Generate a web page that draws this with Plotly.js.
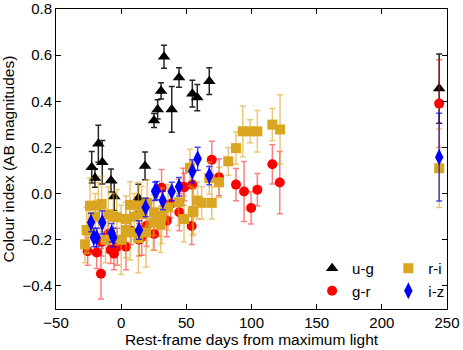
<!DOCTYPE html>
<html>
<head>
<meta charset="utf-8">
<script src="https://cdn.plot.ly/plotly-3.0.1.min.js"></script>
<style>
  html, body { margin: 0; padding: 0; background: #fff; }
  #plot { width: 463px; height: 350px; }
</style>
</head>
<body>
<div id="plot"></div>
<script>
// u-g colour curve
const ugDays = [-22.6, -20.1, -17.5, -14.5, -7.8, -5.3, 13.2, 18.3, 25.2, 28.0, 30.6, 32.9, 38.8, 44.4, 54.6, 58.4, 67.6, 244];
const ugVals = [0.114, 0.068, 0.216, 0.136, 0.057, -0.013, -0.019, 0.12, 0.317, 0.365, 0.445, 0.593, 0.365, 0.503, 0.433, 0.416, 0.487, 0.455];
const ugErrs = [0.068, 0.04, 0.08, 0.094, 0.05, 0.06, 0.06, 0.06, 0.03, 0.042, 0.035, 0.05, 0.099, 0.042, 0.058, 0.057, 0.058, 0.15];

// g-r colour curve
const grDays = [-25.7, -18.8, -15.5, -15.0, -10.0, -8.0, -5.5, -3.0, 3.7, 7.6, 13.7, 15.8, 19.6, 25.2, 28.5, 31.0, 35.0, 38.0, 44.6, 47.7, 48.5, 54.1, 54.6, 69.5, 75.1, 88.1, 94.3, 99.7, 104.5, 116, 121.7, 244];
const grVals = [-0.25, -0.255, -0.347, -0.21, -0.175, -0.243, -0.26, -0.23, -0.23, -0.161, -0.2, -0.187, -0.139, -0.175, -0.125, 0.025, -0.117, -0.045, -0.081, 0.03, 0.028, -0.14, 0.039, 0.147, 0.071, 0.039, 0.009, -0.062, 0.017, 0.127, 0.048, 0.39];
const grErrs = [0.06, 0.07, 0.11, 0.06, 0.08, 0.06, 0.07, 0.08, 0.1, 0.06, 0.07, 0.08, 0.09, 0.07, 0.06, 0.08, 0.07, 0.06, 0.08, 0.08, 0.06, 0.08, 0.1, 0.08, 0.08, 0.07, 0.13, 0.07, 0.07, 0.085, 0.135, 0.19];

// r-i colour curve
const riDays = [-27.7, -26.5, -25.2, -23.9, -20.0, -17.5, -15.0, -12.0, -9.8, -6.0, -3.4, 0.0, 3.7, 3.7, 6.8, 6.8, 10.0, 13.2, 13.2, 15.7, 19.1, 20.0, 24.7, 25.2, 30.3, 31.1, 36.0, 43.9, 48.2, 52.8, 54.9, 55.4, 58.6, 61.8, 67.6, 69.5, 75.1, 82.2, 88.1, 93.3, 98.9, 104.5, 116, 121.9, 244];
const riVals = [-0.22, -0.158, -0.16, -0.052, -0.1, -0.052, -0.045, -0.2, -0.09, -0.1, -0.103, -0.2, -0.11, -0.158, -0.049, -0.168, -0.1, -0.052, -0.193, -0.088, -0.168, -0.04, -0.125, -0.081, -0.135, -0.096, -0.06, -0.038, -0.11, 0.112, -0.081, -0.075, -0.03, -0.04, 0.067, -0.04, 0.049, 0.14, 0.197, 0.27, 0.27, 0.27, 0.299, 0.278, 0.11];
const riErrs = [0.08, 0.1, 0.1, 0.12, 0.1, 0.1, 0.12, 0.1, 0.12, 0.1, 0.12, 0.15, 0.1, 0.12, 0.1, 0.12, 0.1, 0.1, 0.15, 0.12, 0.15, 0.1, 0.12, 0.1, 0.12, 0.12, 0.1, 0.1, 0.1, 0.08, 0.1, 0.1, 0.08, 0.07, 0.07, 0.07, 0.065, 0.06, 0.07, 0.11, 0.05, 0.09, 0.07, 0.15, 0.17];

// i-z colour curve
const izDays = [-23.1, -21.0, -18.8, -14.5, -7.3, -6.0, 13.7, 18.8, 26.0, 27.2, 31.9, 38.8, 44.4, 54.6, 58.7, 67.6, 244];
const izVals = [-0.125, -0.19, -0.19, -0.125, -0.17, -0.19, -0.158, -0.06, 0.01, 0.013, -0.03, 0.009, 0.03, 0.097, 0.151, 0.078, 0.158];
const izErrs = [0.04, 0.04, 0.04, 0.05, 0.04, 0.04, 0.04, 0.04, 0.04, 0.04, 0.04, 0.04, 0.04, 0.05, 0.05, 0.04, 0.19];

const yTicks = [-0.4, -0.2, 0.0, 0.2, 0.4, 0.6, 0.8];

const FONT = 'Liberation Sans, Arial, sans-serif';

function series(name, x, y, err, symbol, size, color, errColor, legend) {
  return {
    type: 'scatter',
    mode: 'markers',
    name: name,
    x: x,
    y: y,
    legend: legend,
    error_y: { type: 'data', array: err, visible: true, color: errColor, thickness: 1.5, width: 3 },
    marker: { symbol: symbol, size: size, color: color, line: { width: 0 } }
  };
}

const data = [
  series('u-g', ugDays, ugVals, ugErrs, 'triangle-up', 11, '#000000', 'rgba(0,0,0,0.85)', 'legend'),
  series('g-r', grDays, grVals, grErrs, 'circle', 10, '#ff0000', 'rgba(255,0,0,0.5)', 'legend'),
  series('r-i', riDays, riVals, riErrs, 'square', 10, '#daa520', 'rgba(218,165,32,0.6)', 'legend2'),
  series('i-z', izDays, izVals, izErrs, 'diamond-tall', 12, '#0000ff', 'rgba(0,0,255,0.7)', 'legend2')
];

const axisCommon = {
  showline: true,
  linecolor: '#000',
  linewidth: 1,
  mirror: 'ticks',
  ticks: 'inside',
  ticklen: 5,
  tickcolor: '#000',
  showgrid: false,
  zeroline: false,
  tickfont: { family: FONT, size: 15, color: '#000' }
};

const legendCommon = {
  bgcolor: 'rgba(0,0,0,0)',
  font: { family: FONT, size: 15, color: '#000' },
  yanchor: 'top',
  y: 0.19,
  itemwidth: 30,
  tracegroupgap: 0
};

const layout = {
  width: 463,
  height: 350,
  margin: { l: 56, r: 16, t: 9, b: 41 },
  paper_bgcolor: '#fff',
  plot_bgcolor: '#fff',
  showlegend: true,
  xaxis: Object.assign({}, axisCommon, {
    range: [-50, 250],
    dtick: 50,
    tick0: 0,
    title: { text: 'Rest-frame days from maximum light', standoff: 3,
             font: { family: FONT, size: 15.5, color: '#000' } }
  }),
  yaxis: Object.assign({}, axisCommon, {
    range: [-0.5, 0.8],
    tickvals: yTicks,
    tickformat: '.1f',
    title: { text: 'Colour index (AB magnitudes)', standoff: 5,
             font: { family: FONT, size: 15.5, color: '#000' } }
  }),
  legend: Object.assign({}, legendCommon, { x: 0.655 }),
  legend2: Object.assign({}, legendCommon, { x: 0.85 })
};

Plotly.newPlot('plot', data, layout, { displayModeBar: false, staticPlot: true });
</script>
</body>
</html>
